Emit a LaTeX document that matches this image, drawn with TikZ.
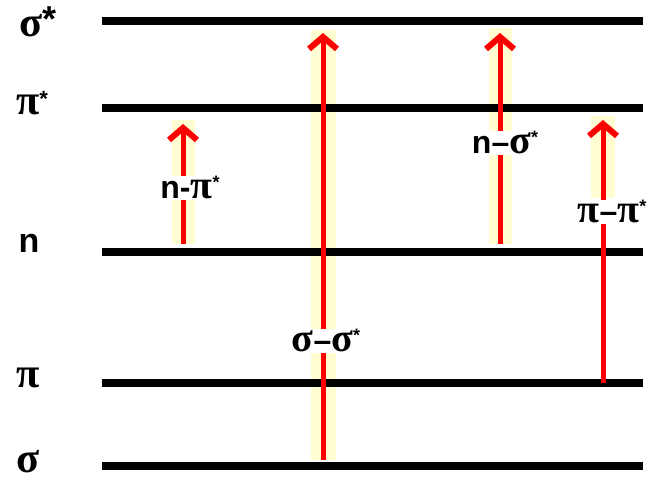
\documentclass[tikz,border=0pt]{standalone}
\usepackage{fontspec}
\setmainfont{Liberation Sans}
\newfontfamily\grk[Scale=1.25]{Liberation Serif}
\usetikzlibrary{arrows.meta}
\begin{document}
\begin{tikzpicture}[x=1pt,y=-1pt,
  level/.style={line width=8pt,black},
  strip/.style={fill=yellow!18,draw=none},
  trans/.style={draw=red,line width=5pt,-{Straight Barb[length=12pt,width=28pt,line width=6pt]}},
  lvl/.style={font=\fontsize{34}{34}\selectfont\bfseries,anchor=center,inner sep=0pt},
  tl/.style={font=\fontsize{32}{32}\selectfont\bfseries,fill=white,inner sep=1pt,anchor=center}]
\useasboundingbox (0,0) rectangle (657,484);
% yellow strips
\fill[strip] (172,120) rectangle (195,244);
\fill[strip] (311,30) rectangle (336,460);
\fill[strip] (489,28) rectangle (512,244);
\fill[strip] (591,116) rectangle (615,198);
% levels
\coordinate (s1a) at (102,21); \coordinate (s1b) at (643,21);
\coordinate (p1a) at (102,108); \coordinate (p1b) at (643,108);
\coordinate (na) at (102,252); \coordinate (nb) at (643,252);
\coordinate (pa) at (102,383); \coordinate (pb) at (643,383);
\coordinate (sa) at (102,466); \coordinate (sb) at (643,466);
\draw[level] (s1a) -- (s1b);
\draw[level] (p1a) -- (p1b);
\draw[level] (na) -- (nb);
\draw[level] (pa) -- (pb);
\draw[level] (sa) -- (sb);
% level labels
\node[lvl] (Ls1) at (38,22) {{\grk σ}\raisebox{5pt}{\fontsize{36}{36}\selectfont *}};
\node[lvl] (Lp1) at (32,103) {{\grk π}\raisebox{8pt}{\fontsize{22}{22}\selectfont *}};
\node[lvl] (Ln) at (29,243) {n};
\node[lvl] (Lp) at (28,378) {\grk π};
\node[lvl] (Ls) at (28,462) {\grk σ};
% arrow endpoints
\coordinate (a1) at (183,244); \coordinate (a1t) at (183,124);
\coordinate (a2) at (323,460); \coordinate (a2t) at (323,33);
\coordinate (a3) at (500,244); \coordinate (a3t) at (500,33);
\coordinate (a4) at (603,383); \coordinate (a4t) at (603,120);
\draw[trans] (a1) -- (a1t);
\draw[trans] (a2) -- (a2t);
\draw[trans] (a3) -- (a3t);
\draw[trans] (a4) -- (a4t);
% transition labels
\node[tl] (t1) at (190,188) {n-{\grk π}\raisebox{10pt}{\fontsize{18}{18}\selectfont *}};
\node[tl] (t2) at (326,341) {{\grk σ}–{\grk σ}\raisebox{10pt}{\fontsize{18}{18}\selectfont *}};
\node[tl] (t3) at (505,143) {n–{\grk σ}\raisebox{10pt}{\fontsize{18}{18}\selectfont *}};
\node[tl] (t4) at (612,212) {{\grk π}–{\grk π}\raisebox{10pt}{\fontsize{18}{18}\selectfont *}};
\end{tikzpicture}
\end{document}
